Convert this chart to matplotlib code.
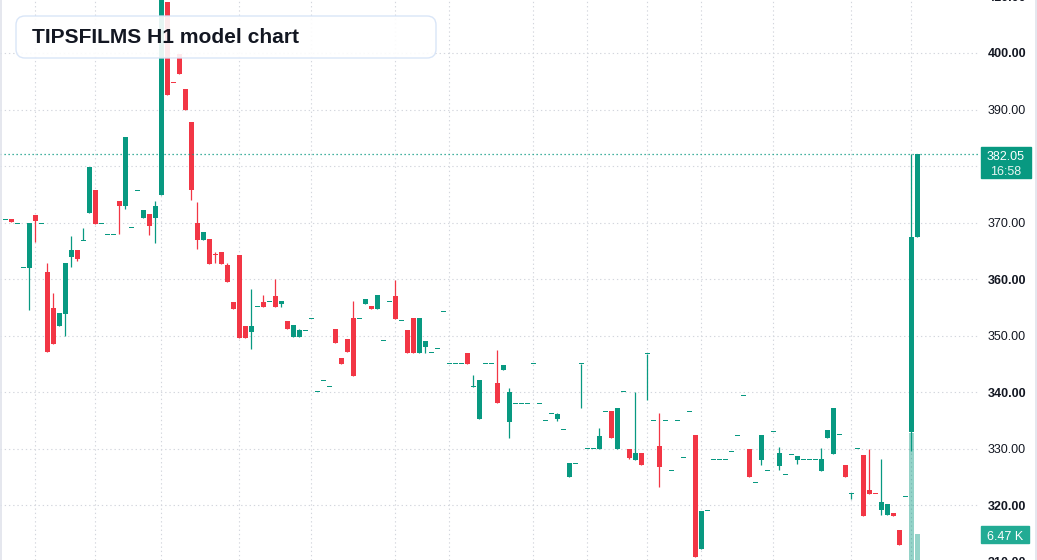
import matplotlib.pyplot as plt
import matplotlib.patches as mpatches
from matplotlib.transforms import IdentityTransform, blended_transform_factory

# OHLC per H1 candle
opens = [370.6, 370.6, 369.85, 362.06, 362.0, 371.33, 369.85, 361.24, 354.9, 351.68,
         353.8, 363.95, 365.13, 366.84, 371.7, 375.75, 369.85, 367.9, 367.9, 373.8,
         372.9, 369.15, 375.7, 370.85, 371.5, 370.85, 374.87, 409.0, 394.85, 399.8,
         393.6, 387.8, 369.9, 366.9, 367.1, 364.46, 364.8, 362.5, 355.93, 364.25,
         351.7, 350.7, 355.05, 356.0, 356.0, 356.96, 355.6, 352.54, 349.76, 349.76,
         350.9, 353.0, 340.09, 342.0, 340.97, 351.12, 345.99, 349.35, 353.07, 353.0,
         355.55, 355.19, 354.66, 349.1, 356.0, 356.92, 352.6, 351.02, 353.03, 346.9,
         347.96, 347.0, 347.66, 354.2, 345.0, 345.0, 345.0, 346.83, 340.93, 335.15,
         345.0, 345.0, 341.52, 343.88, 334.68, 337.92, 337.9, 337.9, 345.0, 337.9,
         334.9, 336.14, 335.14, 333.3, 324.9, 327.3, 345.0, 329.95, 329.95, 329.83,
         336.56, 336.56, 329.83, 340.04, 329.95, 327.88, 329.12, 346.76, 334.88, 330.52,
         334.88, 326.04, 334.88, 328.34, 336.48, 332.47, 312.29, 318.96, 327.98, 327.98,
         327.98, 329.4, 332.23, 339.3, 329.93, 323.91, 327.92, 326.04, 332.94, 326.9,
         325.4, 328.94, 328.0, 328.05, 328.05, 328.05, 326.0, 331.83, 329.06, 332.48,
         327.05, 322.04, 330.0, 328.82, 322.63, 322.07, 319.15, 318.26, 318.55, 315.55,
         321.5, 332.89, 367.4]
highs = [370.6, 370.6, 369.85, 362.06, 369.9, 371.33, 369.85, 362.83, 357.5, 353.98,
         362.83, 367.6, 365.13, 369.0, 379.8, 375.75, 369.85, 367.9, 367.9, 373.8,
         385.1, 369.15, 375.7, 372.2, 371.5, 373.8, 410.5, 409.0, 394.85, 399.8,
         393.6, 387.8, 373.7, 368.3, 367.1, 364.7, 364.8, 362.77, 355.93, 364.25,
         351.7, 358.2, 355.05, 357.1, 356.0, 359.97, 356.08, 352.54, 351.83, 351.12,
         350.9, 353.0, 340.09, 342.0, 340.97, 351.12, 345.99, 349.35, 356.08, 353.0,
         356.43, 355.19, 357.14, 349.1, 356.0, 359.75, 352.6, 351.02, 353.03, 353.03,
         348.96, 347.0, 347.66, 354.2, 345.0, 345.0, 345.0, 346.83, 343.1, 342.05,
         345.0, 345.0, 347.36, 344.71, 340.64, 337.92, 337.9, 337.9, 345.0, 337.9,
         334.9, 336.14, 336.2, 333.3, 327.35, 327.3, 345.0, 329.95, 329.95, 333.7,
         336.56, 336.56, 337.09, 340.04, 329.95, 339.92, 329.12, 346.76, 334.88, 336.36,
         334.88, 326.04, 334.88, 328.34, 336.48, 332.47, 319.01, 318.96, 327.98, 327.98,
         327.98, 329.4, 332.23, 339.3, 329.93, 323.91, 332.47, 326.04, 332.94, 330.2,
         325.4, 328.94, 328.64, 328.05, 328.05, 328.05, 330.12, 333.24, 337.2, 332.48,
         327.05, 322.04, 330.0, 328.82, 330.0, 322.07, 328.11, 320.15, 318.55, 315.55,
         321.5, 382.05, 382.05]
lows = [370.6, 370.15, 369.85, 362.06, 354.57, 366.55, 369.85, 347.08, 348.5, 351.68,
        349.9, 362.18, 363.2, 366.84, 371.7, 369.7, 369.85, 367.9, 367.9, 368.0,
        372.4, 369.15, 375.7, 370.85, 367.8, 366.4, 374.87, 392.57, 394.8, 396.3,
        389.9, 374.0, 365.3, 366.9, 362.66, 362.8, 362.66, 359.5, 354.7, 349.6,
        349.6, 347.7, 355.05, 355.05, 356.0, 355.07, 355.07, 351.12, 349.76, 349.76,
        350.9, 353.0, 340.09, 342.0, 340.97, 348.7, 344.93, 347.05, 342.8, 353.0,
        355.55, 354.66, 354.66, 349.1, 356.0, 352.9, 352.6, 346.9, 346.9, 346.9,
        346.9, 347.0, 347.66, 354.2, 345.0, 345.0, 345.0, 344.95, 340.93, 335.15,
        345.0, 345.0, 338.04, 343.88, 331.85, 337.92, 337.9, 337.9, 345.0, 337.9,
        334.9, 336.14, 334.95, 333.3, 324.9, 327.3, 337.1, 329.95, 329.95, 329.83,
        336.56, 331.95, 329.83, 340.04, 328.06, 327.88, 327.0, 338.5, 334.88, 323.14,
        334.88, 326.04, 334.88, 328.34, 336.48, 310.87, 312.29, 318.96, 327.98, 327.98,
        327.98, 329.4, 332.23, 339.3, 324.91, 323.91, 327.04, 326.04, 332.94, 326.2,
        325.4, 328.94, 327.23, 328.05, 328.05, 328.05, 326.0, 331.83, 329.06, 332.48,
        324.99, 321.03, 330.0, 318.02, 322.0, 322.04, 318.26, 318.26, 318.08, 312.95,
        321.5, 329.59, 367.4]
closes = [370.6, 370.15, 369.85, 362.06, 369.9, 370.3, 369.85, 347.08, 348.5, 353.98,
          362.83, 365.13, 363.54, 366.84, 379.8, 369.7, 369.85, 367.9, 367.9, 372.9,
          385.1, 369.15, 375.7, 372.2, 369.44, 372.9, 410.5, 392.57, 394.8, 396.3,
          389.9, 375.8, 366.9, 368.3, 362.66, 364.2, 362.66, 359.5, 354.7, 349.6,
          349.6, 351.7, 355.05, 355.05, 356.0, 355.07, 356.08, 351.12, 351.83, 350.94,
          350.9, 353.0, 340.09, 342.0, 340.97, 348.7, 344.93, 347.05, 342.8, 353.0,
          356.43, 354.66, 357.14, 349.1, 356.0, 352.9, 352.6, 346.9, 346.9, 353.03,
          348.96, 347.0, 347.66, 354.2, 345.0, 345.0, 345.0, 344.95, 340.93, 342.05,
          345.0, 345.0, 338.04, 344.71, 339.93, 337.92, 337.9, 337.9, 345.0, 337.9,
          334.9, 336.14, 336.03, 333.3, 327.35, 327.3, 345.0, 329.95, 329.95, 332.13,
          336.56, 331.95, 337.09, 340.04, 328.24, 329.12, 327.0, 346.76, 334.88, 326.8,
          334.88, 326.04, 334.88, 328.34, 336.48, 310.87, 319.01, 318.96, 327.98, 327.98,
          327.98, 329.4, 332.23, 339.3, 324.91, 323.91, 332.47, 326.04, 332.94, 329.13,
          325.4, 328.94, 328.64, 328.05, 328.05, 328.05, 328.11, 333.24, 337.2, 332.48,
          324.99, 322.04, 330.0, 318.02, 322.0, 322.04, 320.5, 320.15, 318.08, 312.95,
          321.5, 367.4, 382.05]

# only the last two volume bars are visible (thousands)
vol_idx = [151, 152]
vol_k = [31.6, 6.47]

# session separators (candle index)
vgrid = [5, 15, 26, 39, 51, 65, 74, 88, 97, 107, 116, 128, 141, 151]
price_ticks = [310, 320, 330, 340, 350, 360, 370, 380, 390, 400, 410]
bold_ticks = [310, 320, 340, 360, 380, 400, 410]

last_price = 382.05
UP = "#089981"
DOWN = "#F23645"
W, H = 1037, 560

fig = plt.figure(figsize=(W / 100, H / 100), dpi=100)
ax = fig.add_axes([0, 0, 978 / W, 1])
ax.set_xlim(-5.3 / 6, -5.3 / 6 + 978 / 6)
ax.set_ylim(310.27, 409.38)
for s in ax.spines.values():
    s.set_visible(False)
ax.set_xticks([])
ax.set_yticks([])

grid_kw = dict(color="#d3d6dd", lw=0.8, ls=(0, (1.2, 2.6)), zorder=0)
for p in price_ticks:
    ax.axhline(p, **grid_kw)
for v in vgrid:
    ax.axvline(v, **grid_kw)

# volume overlay
ax.bar(vol_idx, [v / 139.3 for v in vol_k], width=0.8, color=UP, alpha=0.43,
       transform=ax.get_xaxis_transform(), zorder=1)

min_h = 0.18
for i in range(len(opens)):
    o, hi, lo, c = opens[i], highs[i], lows[i], closes[i]
    col = UP if c >= o else DOWN
    if hi > lo:
        ax.vlines(i, lo, hi, color=col, lw=0.9, zorder=2)
    body = abs(c - o)
    bot = min(o, c)
    if body < min_h:
        bot = (o + c) / 2 - min_h / 2
        body = min_h
    ax.bar(i, body, bottom=bot, width=0.8, color=col, lw=0, zorder=3)

ax.axhline(last_price, color=UP, lw=0.9, ls=(0, (1, 2.2)), zorder=4)

# price scale labels
tr = blended_transform_factory(ax.transAxes, ax.transData)
for p in price_ticks:
    ax.text(988 / 978, p, f"{p:.2f}", transform=tr, ha="left", va="center_baseline",
            fontsize=9, family="Liberation Sans", color="#131722",
            fontweight="bold" if p in bold_ticks else "normal", clip_on=False)

# last price label
px = IdentityTransform()
fig.add_artist(mpatches.Rectangle((981, H - 178), 50, 31, color=UP, transform=px, zorder=5))
fig.text(1006 / W, 1 - 155.5 / H, f"{last_price:.2f}", ha="center", va="center_baseline",
         fontsize=9, family="Liberation Sans", color="white", zorder=6)
fig.text(1006 / W, 1 - 170.5 / H, "16:58", ha="center", va="center_baseline",
         fontsize=9, family="Liberation Sans", color="#e6f5f1", zorder=6)

# volume label
fig.add_artist(mpatches.Rectangle((981, H - 543), 48, 17, color="#22ab94", transform=px, zorder=5))
fig.text(1005 / W, 1 - 535 / H, f"{vol_k[-1]:.2f} K", ha="center", va="center_baseline",
         fontsize=9, family="Liberation Sans", color="white", zorder=6)

# title box
fig.add_artist(mpatches.FancyBboxPatch((16, H - 58), 420, 42,
                                       boxstyle="round,pad=0,rounding_size=9",
                                       facecolor="white", alpha=0.9, edgecolor="#d5e3f7",
                                       lw=1.0, transform=px, zorder=7))
fig.text(32 / W, 1 - 37.5 / H, "TIPSFILMS H1 model chart", ha="left", va="center",
         fontsize=15.1, fontweight="bold", family="Liberation Sans", color="#131722", zorder=8)

# pane borders
fig.add_artist(plt.Line2D([0.8, 0.8], [0, H], color="#e0e3eb", lw=1.2, transform=px))
fig.add_artist(plt.Line2D([W - 1, W - 1], [0, H], color="#e0e3eb", lw=1.2, transform=px))

fig.savefig("out.png", dpi=100)
